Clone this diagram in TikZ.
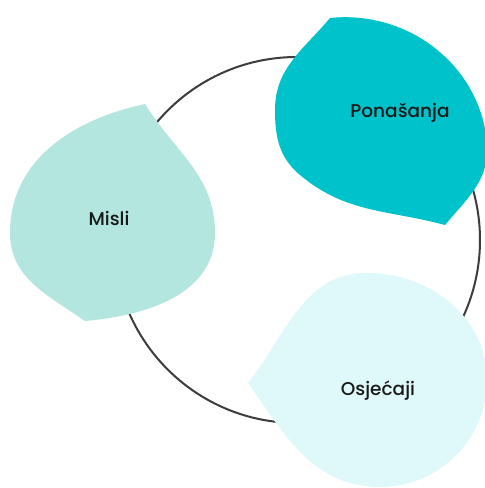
\documentclass[tikz,border=0pt]{standalone}
\usepackage{fontspec}
\setmainfont{Poppins Medium}
\usepackage{tikz}
\usepackage{color}

\definecolor{misliboja}{HTML}{B2E6DF}
\definecolor{ponasanjaboja}{HTML}{00C2CB}
\definecolor{osjecajiboja}{HTML}{DFF9FA}
\definecolor{krug}{HTML}{3C3C3C}

\begin{document}
\begin{tikzpicture}[x=1pt,y=1pt,
  label/.style={font=\fontsize{18.5}{22}\selectfont, text=black!90, anchor=base}]
\useasboundingbox (0,0) rectangle (485,488);

\draw[krug, line width=2pt] (297,248) circle (183);

\fill[misliboja] (145,384) to[out=192,in=90] (10,255) to[out=-90,in=145] (85,167)
  to[out=5,in=-90] (215,255) to[out=90,in=-58] cycle;
\fill[ponasanjaboja] (330,470) to[out=6,in=95] (487,345) to[out=-85,in=50] (445,263)
  to[out=165,in=-40] (300,313) to[out=140,in=-90] (275,378) to[out=90,in=230] cycle;
\fill[osjecajiboja] (248,105) to[out=52,in=180] (367,215) to[out=0,in=90] (487,108)
  to[out=-90,in=0] (380,1) to[out=180,in=-55] cycle;

\node[label] (misli) at (109,262) {Misli};
\node[label] (ponasanja) at (400,370) {Ponašanja};
\node[label] (osjecaji) at (378,92) {Osjećaji};
\end{tikzpicture}
\end{document}
